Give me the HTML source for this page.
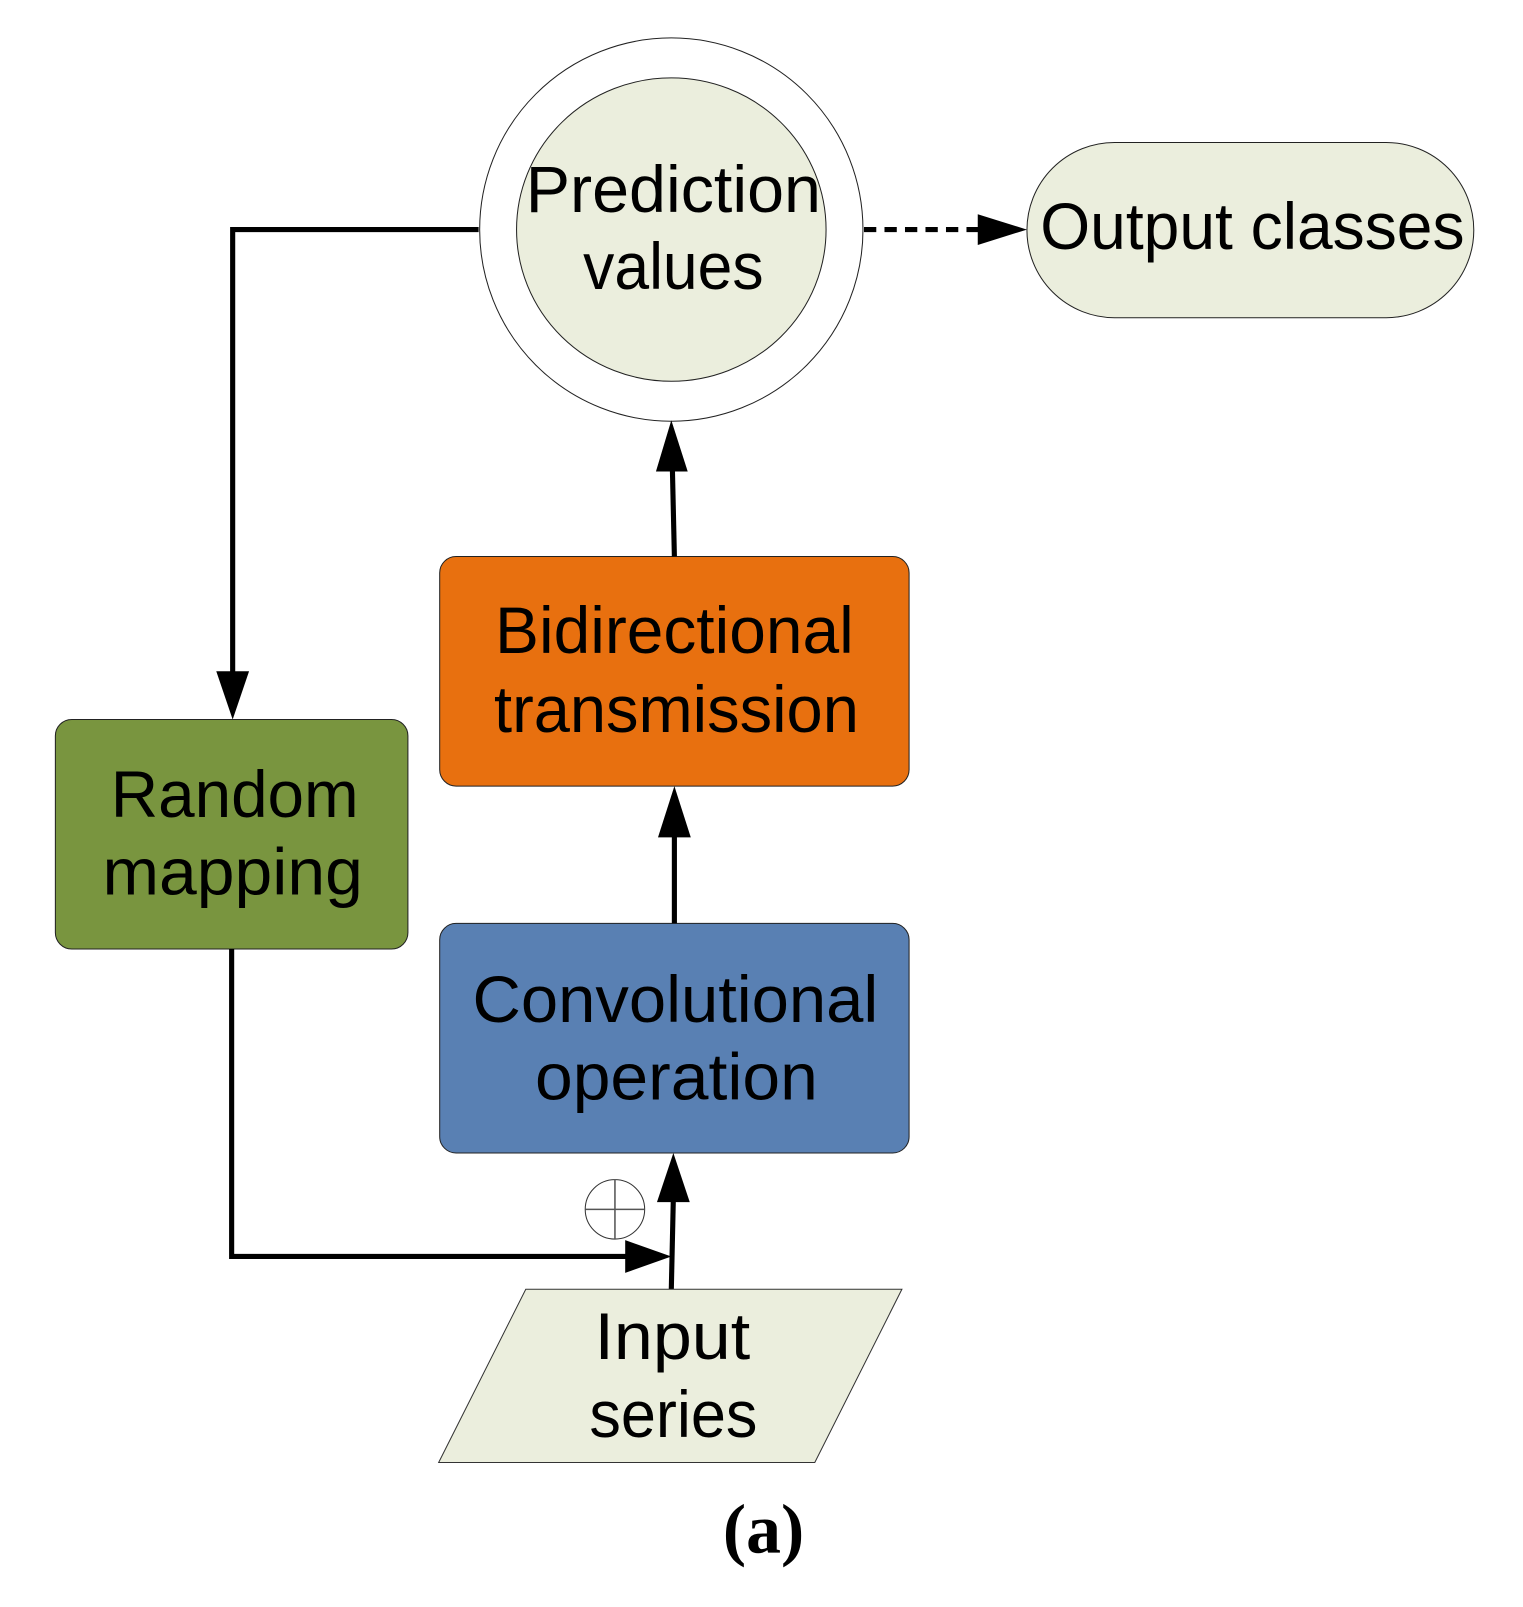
<!DOCTYPE html>
<html><head><meta charset="utf-8"><style>html,body{margin:0;padding:0;background:#fff}svg{display:block}</style></head>
<body>
<svg width="1523" height="1607" viewBox="0 0 1486 1568" xmlns="http://www.w3.org/2000/svg">
<defs>
<marker id="ah" markerWidth="10" markerHeight="10" refX="10" refY="5" orient="auto" markerUnits="userSpaceOnUse" viewBox="0 0 10 10" >
<path d="M0,0 L10,5 L0,10 z" fill="#000"/>
</marker>
</defs>
<g font-family="Liberation Sans, sans-serif" font-size="64" fill="#000" text-anchor="middle">
<!-- circles -->
<circle cx="655" cy="224" r="187" fill="#fff" stroke="#222" stroke-width="1"/>
<ellipse cx="655" cy="224" rx="151" ry="148" fill="#EBEEDD" stroke="#222" stroke-width="1"/>
<text x="657" y="207" textLength="288" lengthAdjust="spacingAndGlyphs">Prediction</text>
<text x="657" y="282" textLength="176" lengthAdjust="spacingAndGlyphs">values</text>
<!-- output pill -->
<rect x="1002" y="139" width="436" height="171" rx="85.5" fill="#EBEEDD" stroke="#222" stroke-width="1"/>
<text x="1222" y="243" textLength="414" lengthAdjust="spacingAndGlyphs">Output classes</text>
<!-- dotted -->
<line x1="843" y1="224" x2="958" y2="224" stroke="#000" stroke-width="5" stroke-dasharray="12,8"/>
<path d="M954,209 L1002,224 L954,239 z"/>
<!-- bidirectional -->
<rect x="429" y="543" width="458" height="224" rx="16" fill="#E8700F" stroke="#222" stroke-width="1"/>
<text x="658" y="637" textLength="350" lengthAdjust="spacingAndGlyphs">Bidirectional</text>
<text x="660" y="714" textLength="356" lengthAdjust="spacingAndGlyphs">transmission</text>
<line x1="658" y1="543" x2="656" y2="455" stroke="#000" stroke-width="5"/>
<path d="M640,460 L655,410 L671,460 z"/>
<!-- random -->
<rect x="54" y="702" width="344" height="224" rx="16" fill="#79953F" stroke="#222" stroke-width="1"/>
<text x="229" y="797" textLength="242" lengthAdjust="spacingAndGlyphs">Random</text>
<text x="227" y="873" textLength="254" lengthAdjust="spacingAndGlyphs">mapping</text>
<polyline points="467,224 227,224 227,660" fill="none" stroke="#000" stroke-width="5"/>
<path d="M211,655 L227,702 L243,655 z"/>
<!-- conv -->
<rect x="429" y="901" width="458" height="224" rx="16" fill="#5980B3" stroke="#222" stroke-width="1"/>
<text x="659" y="997" textLength="396" lengthAdjust="spacingAndGlyphs">Convolutional</text>
<text x="660" y="1073" textLength="276" lengthAdjust="spacingAndGlyphs">operation</text>
<line x1="658" y1="901" x2="658" y2="812" stroke="#000" stroke-width="5"/>
<path d="M642,817 L658,767 L674,817 z"/>
<!-- bottom connectors -->
<polyline points="226,926 226,1226 615,1226" fill="none" stroke="#000" stroke-width="5"/>
<path d="M610,1210 L655,1226 L610,1242 z"/>
<line x1="655" y1="1258" x2="657" y2="1168" stroke="#000" stroke-width="5"/>
<path d="M641,1173 L657,1125 L673,1173 z"/>
<circle cx="600" cy="1180" r="29" fill="#fff" stroke="#333" stroke-width="1"/>
<line x1="571" y1="1180" x2="629" y2="1180" stroke="#555" stroke-width="1.5"/>
<line x1="600" y1="1151" x2="600" y2="1209" stroke="#555" stroke-width="1.5"/>
<!-- input -->
<polygon points="428,1427 513,1258 880,1258 795,1427" fill="#EBEEDD" stroke="#333" stroke-width="1"/>
<text x="656" y="1326" textLength="152" lengthAdjust="spacingAndGlyphs">Input</text>
<text x="657" y="1402" textLength="164" lengthAdjust="spacingAndGlyphs">series</text>
<text x="745" y="1515" font-family="Liberation Serif, serif" font-weight="bold" font-size="68">(a)</text>
</g>
</svg>
</body></html>
